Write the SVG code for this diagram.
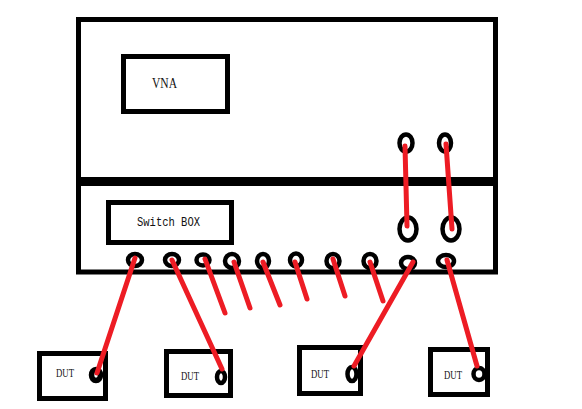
<svg xmlns="http://www.w3.org/2000/svg" width="582" height="409" viewBox="0 0 582 409">
<style>
.box{fill:none;stroke:#000;stroke-width:5}
.port{fill:#fff;stroke:#000;stroke-width:4.5}
.wire{stroke:#ed1c24;stroke-width:5;fill:none;stroke-linecap:round}
.lbl{fill:#111;font-family:"Liberation Serif",serif;font-size:13px}
.mono{fill:#111;font-family:"Liberation Mono",monospace;font-size:12.5px}
</style>
<rect width="582" height="409" fill="#fff"/>
<g id="chassis">
<rect class="box" x="78.5" y="19.5" width="417" height="252.5"/>
<rect x="79" y="177" width="417" height="9" fill="#000"/>
</g>
<g id="vna">
<rect class="box" x="123.5" y="56.5" width="104" height="55"/>
<text class="lbl" x="152" y="88" style="font-size:15px" textLength="25" lengthAdjust="spacingAndGlyphs">VNA</text>
</g>
<g id="switch-box">
<rect class="box" x="108.5" y="202.5" width="123" height="40"/>
<text class="mono" x="137" y="226" textLength="63" lengthAdjust="spacingAndGlyphs">Switch BOX</text>
</g>
<g id="ports">
<ellipse class="port" cx="406" cy="143" rx="6.5" ry="8.5"/>
<ellipse class="port" cx="445" cy="143" rx="6" ry="8.5"/>
<ellipse class="port" cx="408" cy="229" rx="8.5" ry="11.5"/>
<ellipse class="port" cx="451" cy="229" rx="8.5" ry="11.5"/>
<ellipse class="port" cx="135" cy="260" rx="7" ry="6"/>
<ellipse class="port" cx="172" cy="260" rx="7" ry="6"/>
<ellipse class="port" cx="203" cy="260" rx="6.5" ry="5.5"/>
<ellipse class="port" cx="232" cy="261" rx="7" ry="7"/>
<ellipse class="port" cx="263" cy="261" rx="6" ry="7"/>
<ellipse class="port" cx="296" cy="260" rx="6" ry="6.5"/>
<ellipse class="port" cx="333" cy="261" rx="6.5" ry="7"/>
<ellipse class="port" cx="370" cy="261" rx="6.5" ry="7"/>
<ellipse class="port" cx="408" cy="263" rx="7" ry="6"/>
<ellipse class="port" cx="446" cy="261" rx="8" ry="6"/>
</g>
<g id="dut-1">
<rect class="box" x="39.5" y="353.5" width="66" height="45"/>
<text class="lbl" x="56" y="377" textLength="18" lengthAdjust="spacingAndGlyphs">DUT</text>
<ellipse cx="96" cy="375" rx="4.5" ry="5.5" fill="#fff" stroke="#000" stroke-width="5.5"/>
</g>
<g id="dut-2">
<rect class="box" x="166.5" y="351.5" width="64" height="44"/>
<text class="lbl" x="181" y="380" textLength="18" lengthAdjust="spacingAndGlyphs">DUT</text>
<ellipse cx="221" cy="377" rx="4" ry="6" fill="#fff" stroke="#000" stroke-width="4.5"/>
</g>
<g id="dut-3">
<rect class="box" x="299.5" y="347.5" width="61" height="46"/>
<text class="lbl" x="311" y="378" textLength="18" lengthAdjust="spacingAndGlyphs">DUT</text>
<ellipse class="port" cx="352" cy="374" rx="4.5" ry="7"/>
</g>
<g id="dut-4">
<rect class="box" x="430.5" y="349.5" width="57" height="45"/>
<text class="lbl" x="444" y="379" textLength="18" lengthAdjust="spacingAndGlyphs">DUT</text>
<ellipse class="port" cx="479" cy="374" rx="5.5" ry="6"/>
</g>
<g id="connectors">
<path class="wire" d="M405 146L407 226"/>
<path class="wire" d="M446 144L452 229"/>
<path class="wire" d="M135 258L97 373"/>
<path class="wire" d="M172 260L222 369"/>
<path class="wire" d="M205 259L225 313"/>
<path class="wire" d="M234 262L250 308"/>
<path class="wire" d="M263 262L280 305"/>
<path class="wire" d="M295 262L307 299"/>
<path class="wire" d="M333 259L345 296"/>
<path class="wire" d="M370 262L383 301"/>
<path class="wire" d="M413 262L354 366"/>
<path class="wire" d="M447 260L477 366"/>
</g>
</svg>
